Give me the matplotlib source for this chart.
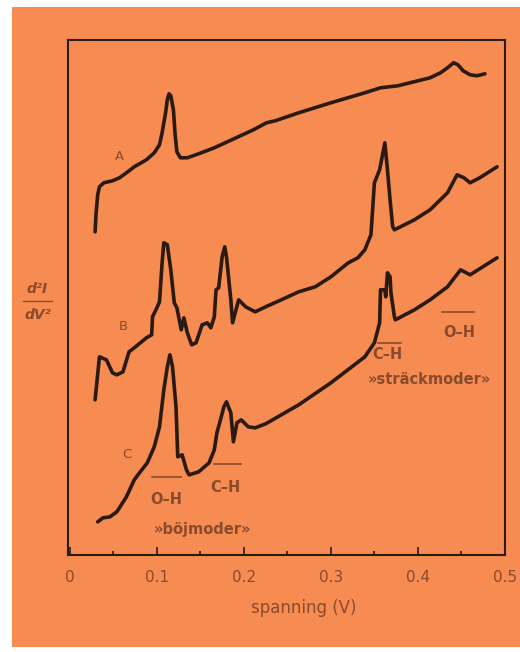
import matplotlib
matplotlib.use("Agg")
import matplotlib.pyplot as plt
from matplotlib.patches import Rectangle
from matplotlib.ticker import MultipleLocator, FixedLocator

# ---------------- data ----------------
a_v = [.029, .030, .032, .034, .039, .049, .057, .065, .074, .088, .097, .103, .106, .110,
       .112, .114, .116, .119, .121, .123, .127, .135, .148, .166, .186, .211, .226, .236,
       .263, .300, .339, .357, .377, .414, .426, .434, .441, .446, .452, .460, .468, .477]
a_y = [3.23, 3.40, 3.60, 3.68, 3.72, 3.74, 3.77, 3.82, 3.88, 3.95, 4.02, 4.10, 4.22, 4.42,
       4.55, 4.61, 4.59, 4.45, 4.20, 4.03, 3.97, 3.97, 4.01, 4.07, 4.15, 4.25, 4.32, 4.34,
       4.42, 4.52, 4.62, 4.67, 4.69, 4.77, 4.82, 4.87, 4.92, 4.90, 4.84, 4.80, 4.79, 4.81]

b_v = [.029, .034, .042, .049, .054, .061, .068, .074, .088, .094, .095, .100, .103, .106,
       .108, .112, .116, .120, .123, .128, .131, .135, .140, .145, .152, .158, .162, .166,
       .168, .171, .175, .178, .180, .185, .187, .194, .202, .213, .225, .243, .263, .282,
       .300, .320, .331, .339, .346, .350, .356, .362, .365, .368, .371, .373, .396, .414,
       .434, .445, .453, .460, .471, .491]
b_y = [1.55, 1.98, 1.95, 1.82, 1.80, 1.83, 2.03, 2.07, 2.17, 2.20, 2.38, 2.47, 2.53, 2.92,
       3.12, 3.10, 2.85, 2.52, 2.47, 2.25, 2.37, 2.22, 2.10, 2.12, 2.30, 2.32, 2.27, 2.38,
       2.65, 2.67, 2.98, 3.08, 2.98, 2.55, 2.32, 2.55, 2.48, 2.43, 2.48, 2.55, 2.63, 2.68,
       2.78, 2.92, 2.97, 3.05, 3.20, 3.72, 3.85, 4.12, 3.85, 3.55, 3.28, 3.25, 3.35, 3.45,
       3.62, 3.80, 3.77, 3.72, 3.77, 3.88]

c_v = [.032, .038, .046, .054, .065, .074, .080, .089, .097, .103, .108, .112, .115, .118,
       .122, .124, .129, .134, .137, .148, .160, .166, .169, .174, .177, .180, .185, .188,
       .192, .197, .205, .213, .225, .263, .300, .339, .350, .356, .357, .362, .363, .365,
       .368, .369, .373, .374, .396, .414, .434, .449, .460, .491]
c_y = [0.33, 0.37, 0.38, 0.43, 0.58, 0.75, 0.82, 0.92, 1.08, 1.28, 1.65, 1.88, 2.00, 1.88,
       1.48, 0.98, 1.00, 0.85, 0.80, 0.83, 0.92, 1.05, 1.22, 1.38, 1.48, 1.53, 1.42, 1.13,
       1.32, 1.35, 1.28, 1.27, 1.31, 1.50, 1.72, 1.98, 2.12, 2.32, 2.65, 2.65, 2.58, 2.82,
       2.78, 2.62, 2.38, 2.35, 2.45, 2.55, 2.68, 2.85, 2.80, 2.97]

x_ticks = [0, 0.1, 0.2, 0.3, 0.4, 0.5]
x_tick_labels = ["0", "0.1", "0.2", "0.3", "0.4", "0.5"]

# ---------------- style ----------------
ORANGE = "#f68c52"
LINE = "#2a1a12"
TEXT = "#8a4a2c"

fig = plt.figure(figsize=(5.2, 6.52), dpi=100, facecolor="white")
fig.patches.append(Rectangle((0.023, 0.0077), 0.977, 0.982, transform=fig.transFigure,
                             facecolor=ORANGE, edgecolor="none", zorder=-10))

ax = fig.add_axes([0.131, 0.149, 0.840, 0.790])
ax.set_facecolor("none")
ax.set_zorder(5)

for v, y in ((a_v, a_y), (b_v, b_y), (c_v, c_y)):
    ax.plot(v, y, color=LINE, lw=2.6, solid_joinstyle="round", solid_capstyle="round")

ax.set_xlim(-0.002, 0.5)
ax.set_ylim(0, 5.15)
ax.set_yticks([])
ax.xaxis.set_major_locator(FixedLocator(x_ticks))
ax.set_xticklabels(x_tick_labels)
ax.xaxis.set_minor_locator(MultipleLocator(0.05))
ax.tick_params(axis="x", which="major", direction="in", length=6, width=1.2,
               color=LINE, labelcolor=TEXT, labelsize=11, pad=11)
ax.tick_params(axis="x", which="minor", direction="in", length=3, width=1.2, color=LINE)
for s in ax.spines.values():
    s.set_color(LINE)
    s.set_linewidth(1.5)

ax.set_xlabel("spanning (V)", color=TEXT, fontsize=12)
ax.xaxis.set_label_coords(0.54, -0.085)

# y label as a fraction
fig.text(0.072, 1 - 289 / 652, "d²I", color=TEXT, fontsize=10, style="italic",
         fontweight="bold", ha="center", va="center", zorder=6)
fig.add_artist(plt.Line2D([0.045, 0.100], [1 - 301 / 652, 1 - 301 / 652],
                          color=TEXT, lw=1.0, transform=fig.transFigure, zorder=6))
fig.text(0.072, 1 - 315 / 652, "dV²", color=TEXT, fontsize=10, style="italic",
         fontweight="bold", ha="center", va="center", zorder=6)

# curve labels and annotations
kw_abc = dict(color=TEXT, fontsize=9.5, ha="center", va="center")
ax.text(0.057, 3.98, "A", **kw_abc)
ax.text(0.061, 2.28, "B", **kw_abc)
ax.text(0.065, 1.00, "C", **kw_abc)

kw = dict(color=TEXT, fontsize=10.5, fontweight="bold", ha="center", va="center")
ax.text(0.111, 0.55, "O–H", **kw)
ax.plot([0.094, 0.128], [0.78, 0.78], color=TEXT, lw=1.2)
ax.text(0.179, 0.67, "C–H", **kw)
ax.plot([0.166, 0.197], [0.91, 0.91], color=TEXT, lw=1.2)
ax.text(0.152, 0.25, "»böjmoder»", **kw)

ax.text(0.365, 2.00, "C–H", **kw)
ax.plot([0.354, 0.380], [2.12, 2.12], color=TEXT, lw=1.2)
ax.text(0.413, 1.75, "»sträckmoder»", **kw)
ax.text(0.447, 2.22, "O–H", **kw)
ax.plot([0.428, 0.465], [2.43, 2.43], color=TEXT, lw=1.2)

fig.savefig("out.png", dpi=100, facecolor="white")
